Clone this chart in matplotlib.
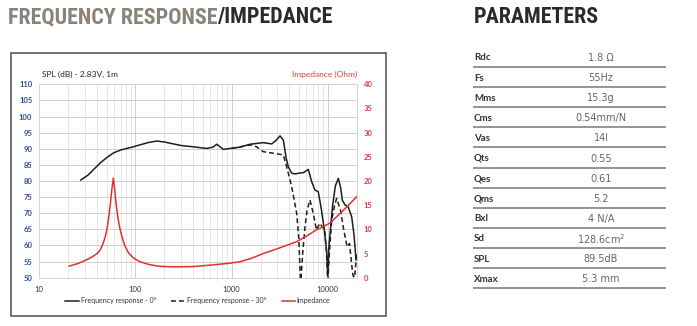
import matplotlib
matplotlib.use("Agg")
import matplotlib.pyplot as plt
from matplotlib.font_manager import FontProperties, findfont
from matplotlib.lines import Line2D
from matplotlib.patches import Rectangle


def pick_font(candidates):
    for fam in candidates:
        try:
            findfont(FontProperties(family=fam), fallback_to_default=False)
            return fam
        except Exception:
            pass
    return "DejaVu Sans"


HEAD_FONT = pick_font(["Liberation Sans Narrow", "Roboto Condensed", "Liberation Sans"])
BODY_FONT = pick_font(["Lato", "Liberation Sans", "DejaVu Sans"])

# ---- data -------------------------------------------------------------
freq_0 = [27, 32, 38, 43, 50, 59, 70, 81, 95, 111, 135, 166, 200, 248, 300,
          400, 551, 640, 700, 760, 820, 961, 1223, 1553, 2136, 2612, 2900,
          3187, 3450, 3700, 3890, 4217, 4600, 4946, 5600, 6280, 6800, 7360,
          7960, 8500, 9200, 9750, 10000, 10300, 11200, 12000, 12880, 13600,
          14200, 15130, 16300, 17740, 18800, 19680]
spl_0 = [80.3, 81.8, 84.0, 85.6, 87.2, 88.7, 89.6, 90.1, 90.6, 91.2, 91.9,
         92.4, 92.1, 91.5, 91.0, 90.6, 90.1, 90.5, 91.4, 90.6, 89.8, 90.1,
         90.5, 91.4, 91.9, 91.5, 92.6, 94.0, 92.7, 87.0, 84.4, 82.4, 82.2,
         82.4, 82.6, 83.6, 79.8, 77.2, 76.7, 72.0, 65.0, 58.0, 50.5, 60.0,
         72.0, 78.5, 80.8, 78.0, 74.0, 72.6, 72.0, 68.9, 63.0, 55.5]

freq_30 = [1000, 1553, 1824, 2136, 2720, 3450, 3740, 4217, 4750, 5000, 5220,
           5500, 5800, 6100, 6530, 7060, 7640, 8250, 9290, 9700, 10000, 10400,
           11000, 11700, 12360, 13560, 14670, 15890, 16850, 17600, 18250,
           19000, 20000]
spl_30 = [90.1, 91.2, 90.6, 89.1, 88.6, 88.1, 84.4, 78.2, 70.0, 62.0, 48.0,
          58.0, 65.8, 71.0, 74.1, 70.0, 64.8, 66.9, 64.8, 58.0, 48.0, 58.0,
          67.9, 72.0, 74.6, 71.0, 64.8, 59.6, 60.6, 55.0, 50.8, 50.0, 57.5]

freq_z = [20.5, 25, 31.1, 36, 40, 42.8, 45, 47, 49, 51, 53, 55, 57, 58.9,
          60.5, 62, 64, 66, 68, 70.8, 74, 78, 85, 95, 111, 140, 180, 250, 400,
          600, 961, 1223, 1600, 2136, 3000, 4750, 6000, 7640, 10480, 14670,
          20000]
imp_z = [2.4, 2.9, 3.7, 4.4, 5.0, 5.7, 6.6, 7.6, 8.8, 10.5, 12.8, 15.5, 18.5,
         20.6, 18.8, 16.5, 14.0, 12.2, 10.7, 9.2, 7.8, 6.5, 5.1, 4.1, 3.3,
         2.7, 2.35, 2.25, 2.3, 2.6, 3.0, 3.3, 4.0, 5.0, 6.0, 7.45, 8.6, 9.9,
         11.25, 14.0, 16.75]

x_ticks = [10, 100, 1000, 10000]
x_labels = ["10", "100", "1000", "10000"]
spl_ticks = list(range(50, 111, 5))
imp_ticks = list(range(0, 41, 5))

param_names = ["Rdc", "Fs", "Mms", "Cms", "Vas", "Qts", "Qes", "Qms", "Bxl",
               "Sd", "SPL", "Xmax"]
param_values = ["1.8 Ω", "55Hz", "15.3g", "0.54mm/N", "14l", "0.55", "0.61",
                "5.2", "4 N/A", "128.6cm$^2$", "89.5dB", "5.3 mm"]

# ---- figure -----------------------------------------------------------
W, H = 697, 326
fig = plt.figure(figsize=(W / 100, H / 100), dpi=100)
fig.patch.set_facecolor("white")

# full-figure overlay for headings, frame and table (pixel coordinates)
ov = fig.add_axes([0, 0, 1, 1])
ov.set_xlim(0, W)
ov.set_ylim(H, 0)
ov.axis("off")

ov.add_patch(Rectangle((11, 53), 375, 263, fill=False, edgecolor="#5a5a5a",
                       linewidth=1.2, zorder=0))

t1 = ov.text(8, 17, "FREQUENCY RESPONSE", color="#8b8279", fontsize=15.8,
             fontweight="bold", family=HEAD_FONT, ha="left", va="center")
ov.annotate("/IMPEDANCE", xy=(1, 0.5), xycoords=t1, color="#2b2b2b",
            fontsize=15.8, fontweight="bold", family=HEAD_FONT, ha="left",
            va="center")
ov.text(474, 17, "PARAMETERS", color="#2b2b2b", fontsize=15.8,
        fontweight="bold", family=HEAD_FONT, ha="left", va="center")

row_h = 20.1
first_line = 67.0
for i, (name, val) in enumerate(zip(param_names, param_values)):
    yl = first_line + i * row_h
    ov.plot([473, 666], [yl, yl], color="#8c8c8c", linewidth=1.3,
            solid_capstyle="butt")
    ov.text(474, yl - 9, name, color="#333333", fontsize=7, fontweight="bold",
            family=BODY_FONT, ha="left", va="center")
    ov.text(601, yl - 9, val, color="#666666", fontsize=7,
            family="DejaVu Sans", ha="center", va="center")

# ---- chart ------------------------------------------------------------
ax = fig.add_axes([39.3 / W, 1 - 277.7 / H, 317.4 / W, 193.4 / H])
ax.set_xscale("log")
ax.set_xlim(10, 20000)
ax.set_ylim(50, 110)
ax.set_yticks(spl_ticks)
ax.set_xticks(x_ticks)
ax.set_xticklabels(x_labels)
ax.minorticks_on()
ax.yaxis.set_minor_locator(matplotlib.ticker.NullLocator())
ax.xaxis.set_minor_formatter(matplotlib.ticker.NullFormatter())
ax.grid(True, which="major", color="#cfcfcf", linewidth=0.7)
ax.grid(True, which="minor", axis="x", color="#e2e2e2", linewidth=0.6)
ax.tick_params(which="both", length=0)
ax.tick_params(axis="y", colors="#2f4d8f", labelsize=5.5, pad=5)
ax.tick_params(axis="x", colors="#3a3a3a", labelsize=5.5, pad=6)
for lab in ax.get_yticklabels():
    lab.set_fontweight("bold")
    lab.set_family(BODY_FONT)
for lab in ax.get_xticklabels():
    lab.set_family(BODY_FONT)
for sp in ax.spines.values():
    sp.set_color("#d5d5d5")
    sp.set_linewidth(0.7)

az = ax.twinx()
az.set_ylim(0, 40)
az.set_yticks(imp_ticks)
az.tick_params(length=0, colors="#e23b3b", labelsize=5.5, pad=5)
for lab in az.get_yticklabels():
    lab.set_fontweight("bold")
    lab.set_family(BODY_FONT)
for sp in az.spines.values():
    sp.set_visible(False)

ax.plot(freq_0, spl_0, color="#1e1e1e", linewidth=1.1, zorder=3)
ax.plot(freq_30, spl_30, color="#1e1e1e", linewidth=1.1,
        dashes=(3.2, 2.0), zorder=3)
az.plot(freq_z, imp_z, color="#e0312f", linewidth=1.1, zorder=4)

ax.text(0.008, 1.035, "SPL (dB) - 2.83V, 1m", transform=ax.transAxes,
        fontsize=6, color="#222222", family=BODY_FONT, ha="left",
        va="bottom")
az.text(1.0, 1.035, "Impedance (Ohm)", transform=az.transAxes,
        fontsize=6, color="#e23b3b", family=BODY_FONT, ha="right",
        va="bottom")

handles = [Line2D([], [], color="#1e1e1e", linewidth=1.1),
           Line2D([], [], color="#1e1e1e", linewidth=1.1, dashes=(3.2, 2.0)),
           Line2D([], [], color="#e0312f", linewidth=1.1)]
ax.legend(handles, ["Frequency response - 0°", "Frequency response - 30°",
                    "Impedance"],
          loc="center", bbox_to_anchor=(0.5, -0.12), ncol=3, frameon=False,
          prop={"family": BODY_FONT, "size": 5},
          handlelength=2.0, handletextpad=0.2, columnspacing=2.2,
          labelcolor="#333333")

fig.savefig("out.png", dpi=100)
